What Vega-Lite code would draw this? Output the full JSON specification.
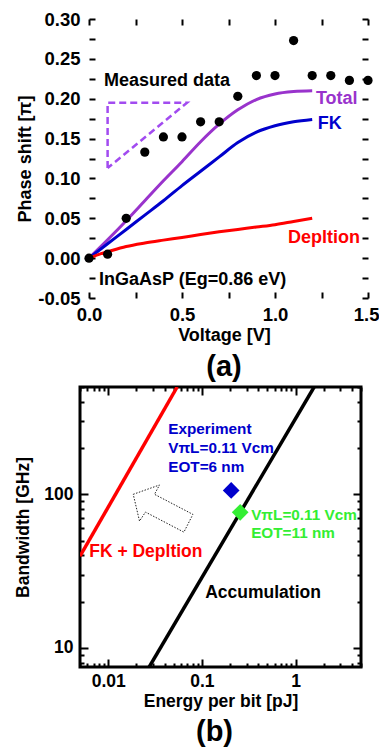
{
  "$schema": "https://vega.github.io/schema/vega-lite/v6.json",
  "padding": {"left": 13, "top": 10, "right": 0, "bottom": 0},
  "background": "white",
  "config": {
    "font": "Liberation Sans",
    "view": {"stroke": "black", "strokeWidth": 3},
    "axis": {"grid": false, "domain": false, "tickColor": "black", "tickWidth": 2, "labelColor": "black", "titleColor": "black", "labelFont": "Liberation Sans", "titleFont": "Liberation Sans", "labelFontWeight": "bold", "titleFontWeight": "bold", "labelFontSize": 18.5, "titleFontSize": 18, "labelFlush": false, "labelOverlap": false},
    "text": {"font": "Liberation Sans", "fontWeight": "bold"}
  },
  "resolve": {"scale": {"color": "independent"}},
  "align": "none",
  "spacing": 2,
  "datasets": {
    "curves": [
      {"V": 0, "phase": 0, "series": "Total"}, {"V": 0.1, "phase": 0.023, "series": "Total"}, {"V": 0.2, "phase": 0.047, "series": "Total"}, {"V": 0.3, "phase": 0.072, "series": "Total"}, {"V": 0.4, "phase": 0.097, "series": "Total"}, {"V": 0.5, "phase": 0.121, "series": "Total"}, {"V": 0.6, "phase": 0.146, "series": "Total"}, {"V": 0.7, "phase": 0.168, "series": "Total"}, {"V": 0.8, "phase": 0.186, "series": "Total"}, {"V": 0.9, "phase": 0.199, "series": "Total"}, {"V": 1.0, "phase": 0.206, "series": "Total"}, {"V": 1.1, "phase": 0.209, "series": "Total"}, {"V": 1.2, "phase": 0.21, "series": "Total"},
      {"V": 0, "phase": 0, "series": "FK"}, {"V": 0.1, "phase": 0.018, "series": "FK"}, {"V": 0.2, "phase": 0.036, "series": "FK"}, {"V": 0.3, "phase": 0.054, "series": "FK"}, {"V": 0.4, "phase": 0.072, "series": "FK"}, {"V": 0.5, "phase": 0.091, "series": "FK"}, {"V": 0.6, "phase": 0.109, "series": "FK"}, {"V": 0.7, "phase": 0.127, "series": "FK"}, {"V": 0.8, "phase": 0.145, "series": "FK"}, {"V": 0.9, "phase": 0.158, "series": "FK"}, {"V": 1.0, "phase": 0.166, "series": "FK"}, {"V": 1.1, "phase": 0.171, "series": "FK"}, {"V": 1.2, "phase": 0.174, "series": "FK"},
      {"V": 0, "phase": 0, "series": "Depletion"}, {"V": 0.05, "phase": 0.0045, "series": "Depletion"}, {"V": 0.1, "phase": 0.008, "series": "Depletion"}, {"V": 0.2, "phase": 0.0146, "series": "Depletion"}, {"V": 0.3, "phase": 0.019, "series": "Depletion"}, {"V": 0.4, "phase": 0.0226, "series": "Depletion"}, {"V": 0.5, "phase": 0.026, "series": "Depletion"}, {"V": 0.6, "phase": 0.0296, "series": "Depletion"}, {"V": 0.7, "phase": 0.033, "series": "Depletion"}, {"V": 0.8, "phase": 0.036, "series": "Depletion"}, {"V": 0.9, "phase": 0.039, "series": "Depletion"}, {"V": 1.0, "phase": 0.042, "series": "Depletion"}, {"V": 1.1, "phase": 0.046, "series": "Depletion"}, {"V": 1.2, "phase": 0.05, "series": "Depletion"}
    ],
    "triangle": [
      {"i": 0, "V": 0.1, "phase": 0.113}, {"i": 1, "V": 0.1, "phase": 0.195}, {"i": 2, "V": 0.527, "phase": 0.195}, {"i": 3, "V": 0.1, "phase": 0.113}
    ],
    "measured": [
      {"V": 0, "phase": 0}, {"V": 0.1, "phase": 0.005}, {"V": 0.2, "phase": 0.05}, {"V": 0.3, "phase": 0.133}, {"V": 0.4, "phase": 0.152}, {"V": 0.5, "phase": 0.152}, {"V": 0.6, "phase": 0.171}, {"V": 0.7, "phase": 0.171}, {"V": 0.8, "phase": 0.203}, {"V": 0.9, "phase": 0.229}, {"V": 1.0, "phase": 0.229}, {"V": 1.1, "phase": 0.273}, {"V": 1.2, "phase": 0.229}, {"V": 1.3, "phase": 0.229}, {"V": 1.4, "phase": 0.223}, {"V": 1.5, "phase": 0.223}
    ],
    "labelsA": [
      {"V": 0.08, "phase": 0.222, "t": "Measured data", "series": "Note"},
      {"V": 1.22, "phase": 0.2, "t": "Total", "series": "Total"},
      {"V": 1.23, "phase": 0.1685, "t": "FK", "series": "FK"},
      {"V": 1.07, "phase": 0.0255, "t": "Depltion", "series": "Depletion"},
      {"V": 0.054, "phase": -0.027, "t": "InGaAsP (Eg=0.86 eV)", "series": "Note"}
    ],
    "linesB": [
      {"E": 0.005, "BW": 39.5, "series": "FK + Depltion"}, {"E": 0.0545, "BW": 500, "series": "FK + Depltion"},
      {"E": 0.0274, "BW": 7.5, "series": "Accumulation"}, {"E": 1.58, "BW": 500, "series": "Accumulation"}
    ],
    "arrow": [
      {"i": 0, "E": 0.0185, "BW": 100}, {"i": 1, "E": 0.0353, "BW": 115}, {"i": 2, "E": 0.0312, "BW": 100}, {"i": 3, "E": 0.0802, "BW": 74}, {"i": 4, "E": 0.0643, "BW": 56.7}, {"i": 5, "E": 0.025, "BW": 76.6}, {"i": 6, "E": 0.0216, "BW": 66.9}, {"i": 7, "E": 0.0185, "BW": 100}
    ],
    "points": [
      {"E": 0.2056, "BW": 106, "series": "Experiment"},
      {"E": 0.2566, "BW": 76.3, "series": "EOT11"}
    ],
    "labelsB": [
      {"E": 0.0437, "BW": 266, "t": "Experiment", "series": "Experiment"},
      {"E": 0.0437, "BW": 200, "t": "VπL=0.11 Vcm", "series": "Experiment"},
      {"E": 0.0437, "BW": 150, "t": "EOT=6 nm", "series": "Experiment"},
      {"E": 0.336, "BW": 72.9, "t": "VπL=0.11 Vcm", "series": "EOT11"},
      {"E": 0.336, "BW": 55.6, "t": "EOT=11 nm", "series": "EOT11"}
    ],
    "labelsB2": [
      {"E": 0.00627, "BW": 41.8, "t": "FK + Depltion", "series": "FK + Depltion"},
      {"E": 0.1086, "BW": 22.9, "t": "Accumulation", "series": "Accumulation"}
    ]
  },
  "vconcat": [
    {
      "width": 288, "height": 279,
      "view": {"stroke": null},
      "title": {"text": "(a)", "orient": "bottom", "fontSize": 29, "fontWeight": "bold", "font": "Liberation Sans", "frame": "group", "anchor": "middle", "dx": 0, "offset": 8},
      "layer": [
        {
          "mark": {"type": "rect", "fill": null, "fillOpacity": 0, "stroke": "black", "strokeWidth": 3},
          "encoding": {
            "x": {"datum": 0, "type": "quantitative", "scale": {"domain": [-0.0484, 1.5], "nice": false, "zero": false}, "axis": null},
            "x2": {"datum": 1.5},
            "y": {"datum": -0.05, "type": "quantitative", "scale": {"domain": [-0.05, 0.3], "nice": false, "zero": false}, "axis": null},
            "y2": {"datum": 0.3}
          }
        },
        {
          "data": {"name": "curves"},
          "mark": {"type": "line", "strokeWidth": 3, "interpolate": "monotone", "clip": true},
          "encoding": {
            "x": {"field": "V", "type": "quantitative",
              "axis": {"orient": "bottom", "values": [0, 0.25, 0.5, 0.75, 1, 1.25, 1.5], "labelExpr": "datum.value % 0.5 == 0 ? format(datum.value, '.1f') : ''", "title": "Voltage [V]", "tickSize": 6, "offset": -6, "labelPadding": 7, "titlePadding": 3, "labelFlush": true, "labelFlushOffset": 11}},
            "y": {"field": "phase", "type": "quantitative",
              "axis": {"orient": "left", "values": [-0.05, -0.025, 0, 0.025, 0.05, 0.075, 0.1, 0.125, 0.15, 0.175, 0.2, 0.225, 0.25, 0.275, 0.3], "labelExpr": "round(datum.value * 1000) % 50 == 0 ? replace(format(datum.value, '.2f'), '−', '-') : ''", "title": "Phase shift [π]", "tickSize": 6, "offset": -15, "labelPadding": 9, "titlePadding": 3}},
            "color": {"field": "series", "type": "nominal", "scale": {"domain": ["Total", "FK", "Depletion", "Note"], "range": ["#9933CC", "#0000CC", "#FF0000", "#000000"]}, "legend": null}
          }
        },
        {
          "data": {"name": "triangle"},
          "mark": {"type": "line", "strokeWidth": 2.5, "strokeDash": [7, 4], "color": "#A24BF0", "clip": true},
          "encoding": {
            "x": {"field": "V", "type": "quantitative", "axis": {"orient": "top", "values": [0, 0.25, 0.5, 0.75, 1, 1.25, 1.5], "labels": false, "title": null, "tickSize": 6, "offset": -6}},
            "y": {"field": "phase", "type": "quantitative", "axis": {"orient": "right", "values": [-0.05, -0.025, 0, 0.025, 0.05, 0.075, 0.1, 0.125, 0.15, 0.175, 0.2, 0.225, 0.25, 0.275, 0.3], "labels": false, "title": null, "tickSize": 6, "offset": -6}},
            "order": {"field": "i", "type": "quantitative"}
          }
        },
        {
          "data": {"name": "measured"},
          "mark": {"type": "circle", "size": 85, "color": "#000000", "opacity": 1, "clip": false},
          "encoding": {
            "x": {"field": "V", "type": "quantitative", "axis": null},
            "y": {"field": "phase", "type": "quantitative", "axis": null}
          }
        },
        {
          "data": {"name": "labelsA"},
          "mark": {"type": "text", "fontSize": 18, "fontWeight": "bold", "align": "left", "baseline": "middle"},
          "encoding": {
            "x": {"field": "V", "type": "quantitative", "axis": null},
            "y": {"field": "phase", "type": "quantitative", "axis": null},
            "text": {"field": "t"},
            "color": {"field": "series", "type": "nominal", "legend": null}
          }
        }
      ],
      "resolve": {"axis": {"x": "independent", "y": "independent"}}
    },
    {
      "width": 281, "height": 280,
      "title": {"text": "(b)", "orient": "bottom", "fontSize": 29, "fontWeight": "bold", "font": "Liberation Sans", "frame": "group", "anchor": "middle", "dx": -6, "offset": 8},
      "layer": [
        {
          "data": {"name": "linesB"},
          "mark": {"type": "line", "strokeWidth": 3.5, "clip": true},
          "encoding": {
            "x": {"field": "E", "type": "quantitative", "scale": {"type": "log", "domain": [0.005, 5], "nice": false},
              "axis": {"orient": "bottom", "values": [0.01, 0.1, 1], "labelExpr": "datum.value == 0.01 ? '0.01' : datum.value == 0.1 ? '0.1' : '1'", "title": "Energy per bit [pJ]", "tickSize": 8, "offset": -8, "labelPadding": 5, "titlePadding": 3, "labelFontSize": 17.5, "titleFontSize": 17.5}},
            "y": {"field": "BW", "type": "quantitative", "scale": {"type": "log", "domain": [7.5, 500], "nice": false},
              "axis": {"orient": "left", "values": [10, 100], "labelExpr": "datum.value == 10 ? '10' : '100'", "title": "Bandwidth [GHz]", "tickSize": 8, "offset": -8, "labelPadding": 7, "titlePadding": 11, "labelFontSize": 17.5, "titleFontSize": 17.5}},
            "color": {"field": "series", "type": "nominal", "scale": {"domain": ["FK + Depltion", "Accumulation", "Experiment", "EOT11"], "range": ["#FF0000", "#000000", "#0000CC", "#33EE33"]}, "legend": null}
          }
        },
        {
          "data": {"name": "arrow"},
          "mark": {"type": "line", "strokeWidth": 1, "strokeDash": [1.5, 1.5], "color": "#222222", "clip": true},
          "encoding": {
            "x": {"field": "E", "type": "quantitative", "axis": {"orient": "top", "values": [0.01, 0.1, 1], "labels": false, "title": null, "tickSize": 8, "offset": -8}},
            "y": {"field": "BW", "type": "quantitative", "axis": {"orient": "right", "values": [10, 100], "labels": false, "title": null, "tickSize": 8, "offset": -8}},
            "order": {"field": "i", "type": "quantitative"}
          }
        },
        {
          "data": {"name": "points"},
          "mark": {"type": "point", "shape": "diamond", "filled": true, "size": 280, "opacity": 1},
          "encoding": {
            "x": {"field": "E", "type": "quantitative", "axis": {"orient": "bottom", "values": [0.005, 0.006, 0.007, 0.008, 0.009, 0.02, 0.03, 0.04, 0.05, 0.06, 0.07, 0.08, 0.09, 0.2, 0.3, 0.4, 0.5, 0.6, 0.7, 0.8, 0.9, 2, 3, 4, 5], "labels": false, "title": null, "tickSize": 4, "offset": -4}},
            "y": {"field": "BW", "type": "quantitative", "axis": {"orient": "left", "values": [8, 9, 20, 30, 40, 50, 60, 70, 80, 90, 200, 300, 400, 500], "labels": false, "title": null, "tickSize": 4, "offset": -4}},
            "color": {"field": "series", "type": "nominal", "legend": null}
          }
        },
        {
          "data": {"name": "labelsB"},
          "mark": {"type": "text", "fontSize": 15.3, "fontWeight": "bold", "align": "left", "baseline": "middle"},
          "encoding": {
            "x": {"field": "E", "type": "quantitative", "axis": {"orient": "top", "values": [0.005, 0.006, 0.007, 0.008, 0.009, 0.02, 0.03, 0.04, 0.05, 0.06, 0.07, 0.08, 0.09, 0.2, 0.3, 0.4, 0.5, 0.6, 0.7, 0.8, 0.9, 2, 3, 4, 5], "labels": false, "title": null, "tickSize": 4, "offset": -4}},
            "y": {"field": "BW", "type": "quantitative", "axis": {"orient": "right", "values": [8, 9, 20, 30, 40, 50, 60, 70, 80, 90, 200, 300, 400, 500], "labels": false, "title": null, "tickSize": 4, "offset": -4}},
            "text": {"field": "t"},
            "color": {"field": "series", "type": "nominal", "legend": null}
          }
        },
        {
          "data": {"name": "labelsB2"},
          "mark": {"type": "text", "fontSize": 17.5, "fontWeight": "bold", "align": "left", "baseline": "middle"},
          "encoding": {
            "x": {"field": "E", "type": "quantitative", "axis": null},
            "y": {"field": "BW", "type": "quantitative", "axis": null},
            "text": {"field": "t"},
            "color": {"field": "series", "type": "nominal", "legend": null}
          }
        }
      ],
      "resolve": {"axis": {"x": "independent", "y": "independent"}}
    }
  ]
}
